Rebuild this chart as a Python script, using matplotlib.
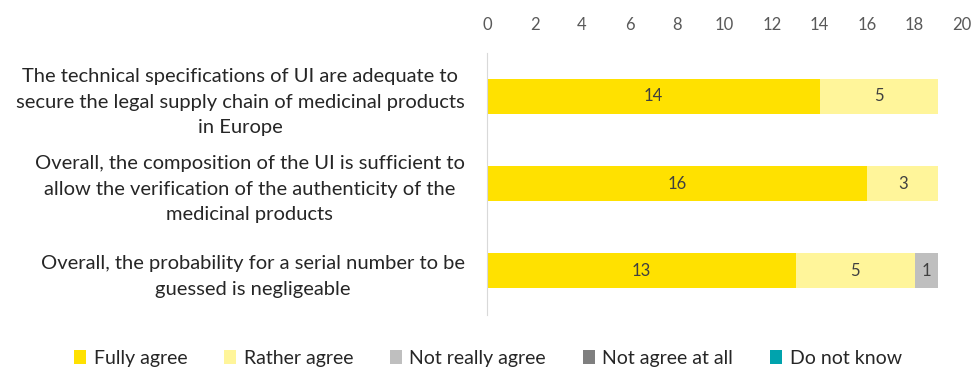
import matplotlib
matplotlib.use('Agg')
import matplotlib.pyplot as plt
import numpy as np

plt.rcParams['font.family'] = ['Lato', 'DejaVu Sans']

# Data
questions = [
    'The technical specifications of UI are adequate to\nsecure the legal supply chain of medicinal products\nin Europe',
    'Overall, the composition of the UI is sufficient to\nallow the verification of the authenticity of the\nmedicinal products',
    'Overall, the probability for a serial number to be\nguessed is negligeable',
]
series_names = ['Fully agree', 'Rather agree', 'Not really agree', 'Not agree at all', 'Do not know']
fully_agree = [14, 16, 13]
rather_agree = [5, 3, 5]
not_really_agree = [0, 0, 1]
not_agree_at_all = [0, 0, 0]
do_not_know = [0, 0, 0]
colors = ['#FFE100', '#FFF59A', '#BFBFBF', '#7F7F7F', '#00A3AD']

values = [fully_agree, rather_agree, not_really_agree, not_agree_at_all, do_not_know]

fig = plt.figure(figsize=(9.76, 3.71), dpi=100)
ax = fig.add_axes([0.499, 0.152, 0.4867, 0.706])

y = np.arange(len(questions))
left = np.zeros(len(questions))
for name, vals, c in zip(series_names, values, colors):
    vals = np.array(vals, dtype=float)
    bars = ax.barh(y, vals, left=left, height=0.4, color=c, label=name)
    for b, v in zip(bars, vals):
        if v > 0:
            ax.text(b.get_x() + b.get_width() / 2, b.get_y() + b.get_height() / 2,
                    f'{int(v)}', ha='center', va='center', fontsize=12, color='#404040')
    left += vals

ax.set_ylim(len(questions) - 0.5, -0.5)
ax.set_xlim(0, 20)
ax.set_xticks(range(0, 21, 2))
ax.xaxis.tick_top()
ax.tick_params(axis='x', length=0, labelsize=12, labelcolor='#595959', pad=14)
ax.set_yticks(y)
ax.set_yticklabels(questions, fontsize=14.5, color='#262626', linespacing=1.6,
                   multialignment='center')
ax.tick_params(axis='y', length=0, pad=16)
for s in ['top', 'right', 'bottom']:
    ax.spines[s].set_visible(False)
ax.spines['left'].set_color('#D9D9D9')

fig.legend(loc='center', bbox_to_anchor=(0.5, 0.035), ncol=5, frameon=False,
           fontsize=14, handlelength=0.6, handleheight=0.7, columnspacing=1.9,
           handletextpad=0.4, labelcolor='#262626')

plt.savefig('out.png', dpi=100)
plt.close()
